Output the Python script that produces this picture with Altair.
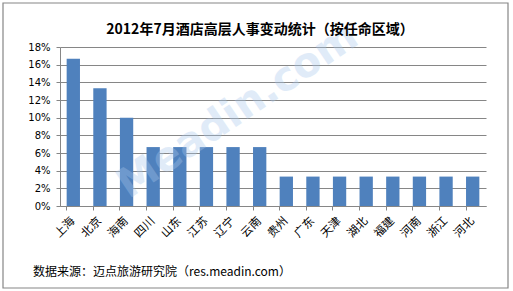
import altair as alt
import pandas as pd

regions = ["上海", "北京", "海南", "四川", "山东", "江苏", "辽宁", "云南",
           "贵州", "广东", "天津", "湖北", "福建", "河南", "浙江", "河北"]
shares = [0.1667, 0.1333, 0.10, 0.0667, 0.0667, 0.0667, 0.0667, 0.0667,
          0.0333, 0.0333, 0.0333, 0.0333, 0.0333, 0.0333, 0.0333, 0.0333]
y_ticks = [0, 0.02, 0.04, 0.06, 0.08, 0.10, 0.12, 0.14, 0.16, 0.18]

title_text = "2012年7月酒店高层人事变动统计（按任命区域）"
source_text = "数据来源：迈点旅游研究院（res.meadin.com）"
watermark_text = "Meadin.com"

df = pd.DataFrame({"region": regions, "share": shares})

W, H = 426, 159
FONT = "Noto Sans CJK SC"

bars = alt.Chart(df).mark_bar(color="#4F81BD").encode(
    x=alt.X("region:N", sort=regions,
            scale=alt.Scale(paddingInner=0.5, paddingOuter=0.25),
            axis=alt.Axis(title=None, labelAngle=-45, labelFont=FONT, labelFontSize=11.5,
                          labelColor="#000", domainColor="#868686", tickColor="#868686",
                          tickSize=4, bandPosition=0, labelPadding=9,
                          labelAlign="right", labelBaseline="middle")),
    y=alt.Y("share:Q", scale=alt.Scale(domain=[0, 0.18], nice=False),
            axis=alt.Axis(title=None, format=".0%", values=y_ticks, grid=True,
                          gridColor="#868686", domainColor="#868686", tickColor="#868686",
                          tickSize=4, labelPadding=6, labelFont="DejaVu Sans",
                          labelFontSize=10, labelColor="#000")),
)

watermark = alt.Chart(pd.DataFrame({"t": [watermark_text]})).mark_text(
    font="DejaVu Sans", fontSize=41, fontWeight="bold", angle=326,
    color="#a9c8ec", opacity=0.35, align="center", baseline="middle"
).encode(text="t:N", x=alt.value(178), y=alt.value(64))

title = alt.Chart(pd.DataFrame({"t": [title_text]})).mark_text(
    font=FONT, fontSize=14, fontWeight="bold", color="#000",
    align="center", baseline="middle"
).encode(text="t:N", x=alt.value(200), y=alt.value(-17))

source = alt.Chart(pd.DataFrame({"t": [source_text]})).mark_text(
    font=FONT, fontSize=12, color="#000", align="left", baseline="middle"
).encode(text="t:N", x=alt.value(-27), y=alt.value(225))

border = alt.Chart(pd.DataFrame({"a": [0]})).mark_rect(
    fill=None, stroke="#868686", strokeWidth=1.2
).encode(x=alt.value(-57), x2=alt.value(448), y=alt.value(-44), y2=alt.value(241))

chart = alt.layer(bars, watermark, title, source, border).properties(
    width=W, height=H,
    autosize=alt.AutoSizeParams(type="none"),
    padding={"left": 60, "top": 47, "right": 513 - 60 - W, "bottom": 291 - 47 - H},
    background="white",
).configure_view(stroke=None)

chart.save("out.html", embed_options={"renderer": "svg", "actions": False})
